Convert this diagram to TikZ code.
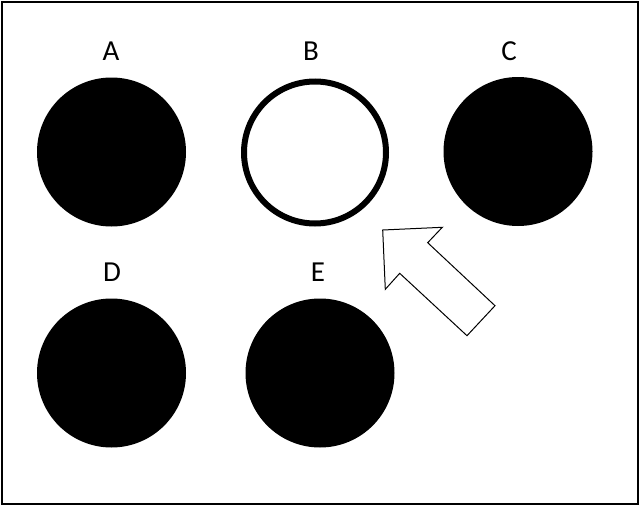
\documentclass[tikz,border=0pt]{standalone}
\usepackage{fontspec}
\setmainfont{Carlito}
\begin{document}
\begin{tikzpicture}[x=1pt,y=-1pt,
  dot/.style={circle,fill=black,minimum size=149pt,inner sep=0pt},
  ring/.style={circle,draw=black,line width=6pt,fill=white,minimum size=142pt,inner sep=0pt},
  lbl/.style={font=\fontsize{29}{30}\selectfont,inner sep=0pt}]
\useasboundingbox (0,0) rectangle (640,506);
\node[draw=black,line width=2pt,minimum width=636pt,minimum height=502pt,inner sep=0pt] (frame) at (319.5,252.5) {};
\node[dot] (A) at (111.5,152) {};
\node[ring] (B) at (315,152.5) {};
\node[dot] (C) at (518,151.5) {};
\node[dot] (D) at (111.5,373) {};
\node[dot] (E) at (320,373) {};
\node[lbl] (la) at (111,51) {A};
\node[lbl] (lb) at (311,51) {B};
\node[lbl] (lc) at (509,51) {C};
\node[lbl] (ld) at (112,272) {D};
\node[lbl] (le) at (318,272) {E};
\coordinate (t) at (382.7,230);
\draw[black,line width=1pt,fill=white,line join=miter] (t) -- (442.3,227.3) -- (427.7,242.7) -- (495,305.7) -- (467,335.7) -- (399.7,273.3) -- (385.3,289.3) -- cycle;
\end{tikzpicture}
\end{document}
